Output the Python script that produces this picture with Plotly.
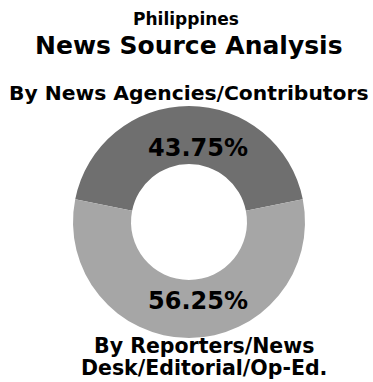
import plotly.graph_objects as go

# Share of Philippine news items by source type
categories = ["By News Agencies/Contributors", "By Reporters/News Desk/Editorial/Op-Ed."]
shares = [43.75, 56.25]
slice_colors = ["#6f6f6f", "#a6a6a6"]

FONT = "DejaVu Sans"
W, H = 373, 382


def px(x, y):
    """Pixel position (from top-left) to paper coordinates."""
    return x / W, 1 - y / H


# donut centred at (189, 222) with radius 116 px
cx, cy, r = 189, 222, 116
fig = go.Figure(
    go.Pie(
        labels=categories,
        values=shares,
        hole=0.5,
        sort=False,
        direction="clockwise",
        rotation=-78.75,
        marker=dict(colors=slice_colors, line=dict(width=0)),
        textinfo="none",
        hoverinfo="label+percent",
        domain=dict(x=[(cx - r) / W, (cx + r) / W], y=[1 - (cy + r) / H, 1 - (cy - r) / H]),
        showlegend=False,
    )
)

total = sum(shares)
pct_labels = [f"{v / total * 100:.2f}%" for v in shares]

texts = [
    ("Philippines", 186, 19, 17),
    ("News Source Analysis", 189, 46, 25),
    (categories[0], 189, 93, 20.3),
    (pct_labels[0], 198, 148, 24),
    (pct_labels[1], 198, 301, 24),
    ("By Reporters/News", 204, 346, 20.5),
    ("Desk/Editorial/Op-Ed.", 204, 368, 20.5),
]
for text, x, y, size in texts:
    ax, ay = px(x, y)
    fig.add_annotation(
        text=text, x=ax, y=ay, xref="paper", yref="paper",
        xanchor="center", yanchor="middle", showarrow=False, borderpad=0,
        font=dict(family=FONT, size=size, color="black", weight="bold"),
    )

fig.update_layout(
    width=W, height=H,
    margin=dict(l=0, r=0, t=0, b=0),
    paper_bgcolor="white", plot_bgcolor="white",
)

fig.write_html("out.html")
